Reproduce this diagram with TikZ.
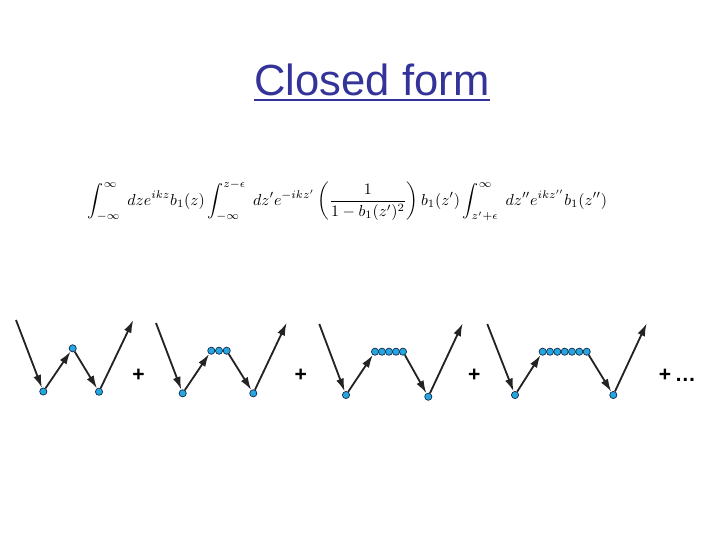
\documentclass[tikz,border=0pt]{standalone}
\usepackage{amsmath}
\usepackage{amssymb}
\usepackage{fontspec}
\setmainfont{Liberation Sans}
\usepackage{tikz}
\usetikzlibrary{arrows.meta}
\definecolor{titleblue}{RGB}{51,51,153}
\definecolor{dotblue}{RGB}{38,166,222}
\definecolor{dotline}{RGB}{20,45,80}
\definecolor{pathgray}{RGB}{35,35,35}

\begin{document}
\begin{tikzpicture}[x=0.025cm,y=-0.025cm,
  roundnode/.style={circle, fill=dotblue, draw=dotline, line width=0.5pt, inner sep=0pt, minimum size=0.18cm},
  plus/.style={font=\fontsize{15}{17}\selectfont\bfseries}]
\tikzset{edge/.style = {-{Latex[width=2mm, length=3.2mm]}, pathgray, line width=1.3pt}}
\useasboundingbox (0,0) rectangle (720,540);
\node[text=titleblue, font=\fontsize{31}{36}\selectfont, anchor=base, inner sep=0pt] (title) at (372,95.5) {Closed form};
\draw[titleblue, line width=1.4pt] ([yshift=-3pt]title.base west) -- ([yshift=-3pt]title.base east);
\node (formula) at (347.5,201) {\resizebox{12.975cm}{!}{$\displaystyle
  \int_{-\infty}^{\infty}\; dz e^{ikz} b_1(z) \int_{-\infty}^{z-\epsilon}\; dz' e^{-ikz'}
  \left(\frac{1}{1-b_1(z')^2}\right) b_1(z') \int_{z'+\epsilon}^{\infty}\; dz'' e^{ikz''} b_1(z'')$}};
% first term
\coordinate (s1) at (16,320);
\node[roundnode] (a1) at (43.3,391.5) {};
\node[roundnode] (b1) at (72.7,348.3) {};
\node[roundnode] (c1) at (99,391.7) {};
\coordinate (e1) at (133.3,320);
\draw[edge] (s1) -- (a1);
\draw[edge] (a1) -- (b1);
\draw[edge] (b1) -- (c1);
\draw[edge] (c1) -- (e1);
\node[plus] (p1) at (138.5,375) {+};
% second term
\coordinate (s2) at (156,323);
\node[roundnode] (a2) at (182.7,393.3) {};
\node[roundnode] (b2) at (211.3,350.7) {};
\node[roundnode] (b2x) at (219,350.7) {};
\node[roundnode] (b2y) at (226.7,350.7) {};
\node[roundnode] (c2) at (253.3,393.3) {};
\coordinate (e2) at (286.7,322.7);
\draw[edge] (s2) -- (a2);
\draw[edge] (a2) -- (b2);
\draw[edge] (b2y) -- (c2);
\draw[edge] (c2) -- (e2);
\node[plus] (p2) at (300.7,375) {+};
% third term
\coordinate (s3) at (319.3,324);
\node[roundnode] (a3) at (346,395) {};
\node[roundnode] (b3) at (375,351.7) {};
\node[roundnode] (b3x) at (382,351.7) {};
\node[roundnode] (b3y) at (389,351.7) {};
\node[roundnode] (b3z) at (396,351.7) {};
\node[roundnode] (b3w) at (403,351.7) {};
\node[roundnode] (c3) at (428.3,396.7) {};
\coordinate (e3) at (462.7,323.3);
\draw[edge] (s3) -- (a3);
\draw[edge] (a3) -- (b3);
\draw[edge] (b3w) -- (c3);
\draw[edge] (c3) -- (e3);
\node[plus] (p3) at (474.3,375) {+};
% fourth term
\coordinate (s4) at (487.3,324);
\node[roundnode] (a4) at (515,395) {};
\node[roundnode] (b4) at (542.7,351.7) {};
\node[roundnode] (b4x) at (550,351.7) {};
\node[roundnode] (b4y) at (557.3,351.7) {};
\node[roundnode] (b4z) at (564.7,351.7) {};
\node[roundnode] (b4w) at (572,351.7) {};
\node[roundnode] (b4v) at (579.3,351.7) {};
\node[roundnode] (b4u) at (586.7,351.7) {};
\node[roundnode] (c4) at (613.3,395) {};
\coordinate (e4) at (646.7,323.3);
\draw[edge] (s4) -- (a4);
\draw[edge] (a4) -- (b4);
\draw[edge] (b4u) -- (c4);
\draw[edge] (c4) -- (e4);
\node[plus, anchor=west] (p4) at (654,375) {+\,\dots};
\end{tikzpicture}
\end{document}
